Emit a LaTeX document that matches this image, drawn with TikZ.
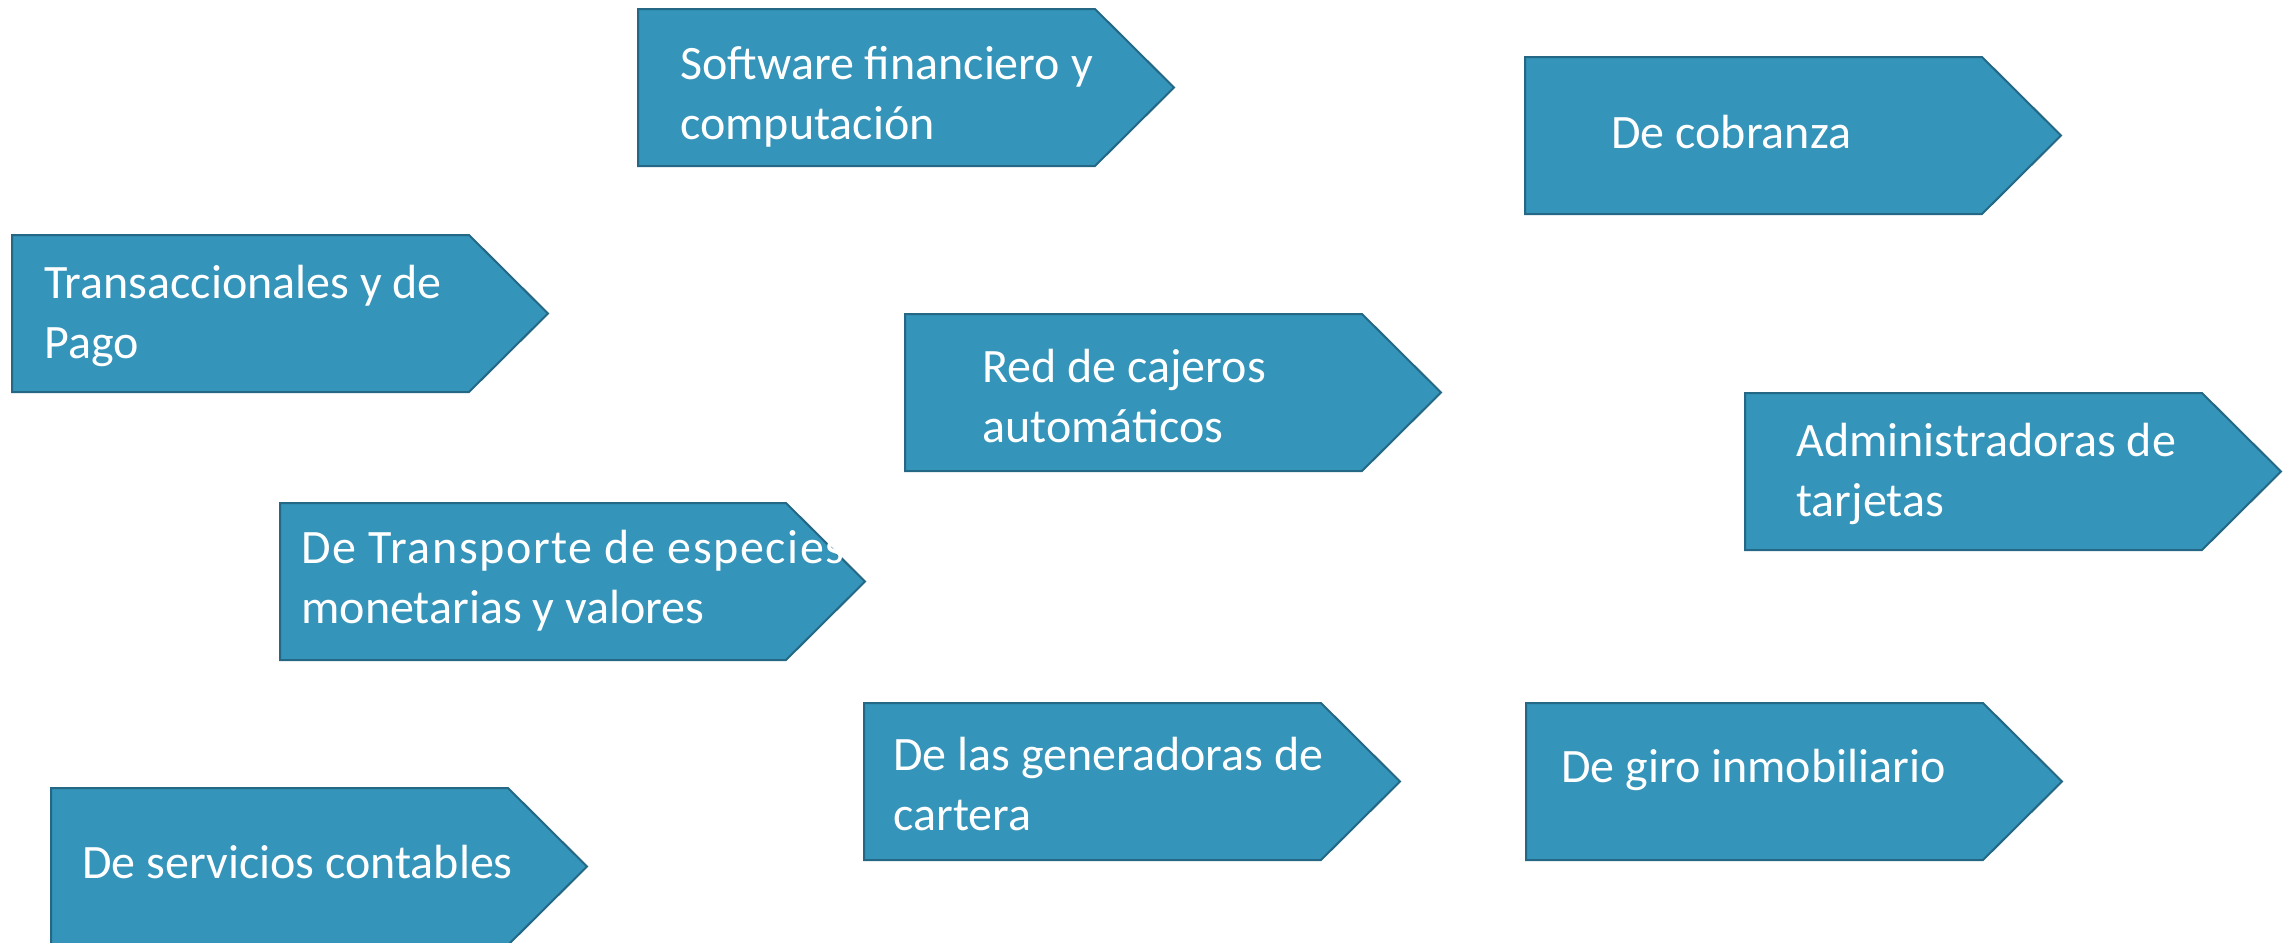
\documentclass[tikz,border=0pt]{standalone}
\usepackage{fontspec}
\setmainfont{Carlito}
\definecolor{azul}{RGB}{52,148,186}
\definecolor{borde}{RGB}{36,104,134}
\tikzset{
  flecha/.style={fill=azul, draw=borde, line width=1pt, line join=miter},
  rotulo/.style={text=white, font=\fontsize{24}{30}\selectfont, align=left, anchor=west, inner sep=0pt}
}
\begin{document}
\begin{tikzpicture}[x=0.5pt,y=-0.5pt]
\useasboundingbox (0,0) rectangle (2288,943);
% flechas de arriba
\draw [flecha] (638,9) -- (1095,9) -- (1174,87.5) -- (1095,166) -- (638,166) -- cycle;
\node [rotulo] (software) at (680,97) {Software financiero y\\computación};
\draw [flecha] (1525,57) -- (1982,57) -- (2061,135.5) -- (1982,214) -- (1525,214) -- cycle;
\node [rotulo] (cobranza) at (1611,132) {De cobranza};
\draw [flecha] (12,235) -- (469,235) -- (548,313.5) -- (469,392) -- (12,392) -- cycle;
\node [rotulo] (transac) at (44,316) {Transaccionales y de\\Pago};
\draw [flecha] (905,314) -- (1362,314) -- (1441,392.5) -- (1362,471) -- (905,471) -- cycle;
\node [rotulo] (cajeros) at (982,396) {Red de cajeros\\automáticos};
% flechas del medio
\draw [flecha] (1745,393) -- (2202,393) -- (2281,471.5) -- (2202,550) -- (1745,550) -- cycle;
\node [rotulo] (tarjetas) at (1796,474) {Administradoras de\\tarjetas};
\draw [flecha] (280,503) -- (786,503) -- (865,581.5) -- (786,660) -- (280,660) -- cycle;
\node [rotulo] (transporte) at (301,581) {{\addfontfeatures{LetterSpace=3.2}De Transporte de especies}\\monetarias y valores};
% flechas de abajo
\draw [flecha] (864,703) -- (1321,703) -- (1400,781.5) -- (1321,860) -- (864,860) -- cycle;
\node [rotulo] (cartera) at (893,784) {De las generadoras de\\cartera};
\draw [flecha] (1526,703) -- (1983,703) -- (2062,781.5) -- (1983,860) -- (1526,860) -- cycle;
\node [rotulo] (giro) at (1561,770) {De giro inmobiliario};
\draw [flecha] (51,788) -- (508,788) -- (587,866.5) -- (508,945) -- (51,945) -- cycle;
\node [rotulo] (contables) at (82,862) {De servicios contables};
\end{tikzpicture}
\end{document}
